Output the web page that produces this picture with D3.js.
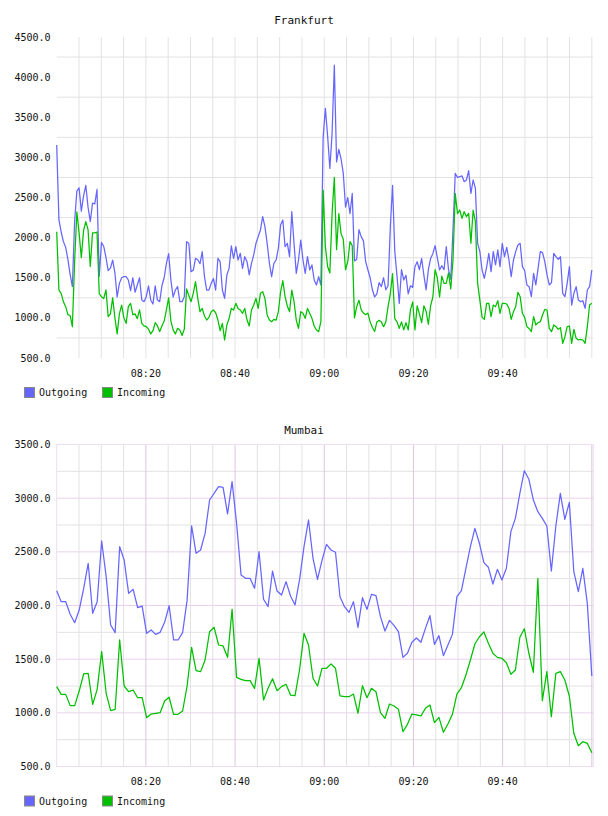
<!DOCTYPE html>
<html>
<head>
<meta charset="utf-8">
<script src="https://cdn.jsdelivr.net/npm/d3@7"></script>
<style>
  body { margin: 0; background: #fff; }
  text { font-family: "DejaVu Sans Mono", monospace; fill: #111; }
</style>
</head>
<body>
<div id="charts"></div>
<script>
var pageWidth = 608, pageHeight = 816;

var seriesNames = ['Outgoing', 'Incoming'];
var xTickLabels = ['08:20', '08:40', '09:00', '09:20', '09:40'];
var frankfurtYTicks = [500, 1000, 1500, 2000, 2500, 3000, 3500, 4000, 4500];
var mumbaiYTicks = [500, 1000, 1500, 2000, 2500, 3000, 3500];

// Frankfurt, samples evenly spread from 08:00 to 10:00
var frankfurtOutgoing = [
  3154, 2220, 2070, 1950, 1880, 1730, 1540, 1390, 2200, 2580,
  2620, 2330, 2520, 2650, 2380, 2200, 2430, 2420, 2600, 1520,
  1940, 1890, 1755, 1590, 1620, 1720, 1560, 1260, 1430, 1500,
  1515, 1513, 1472, 1340, 1500, 1320, 1410, 1500, 1222, 1202,
  1264, 1400, 1220, 1173, 1400, 1222, 1202, 1400, 1500, 1680,
  1800, 1470, 1260, 1347, 1390, 1202, 1202, 1264, 1950, 1930,
  1576, 1593, 1742, 1725, 1675, 1825, 1513, 1347, 1347, 1430,
  1490, 1347, 1742, 1700, 1347, 1243, 1535, 1617, 1896, 1742,
  1887, 1721, 1805, 1617, 1763, 1700, 1535, 1680, 1784, 1929,
  2012, 2095, 2261, 2137, 1929, 1680, 1513, 1680, 1721, 1866,
  2157, 2220, 1887, 1929, 1763, 2323, 1929, 1555, 1721, 1970,
  1721, 1555, 1763, 1597, 1660, 1472, 1410, 1513, 1410, 3250,
  3611, 3268, 2863, 3300, 4150, 2945, 3100, 2980, 2800, 2380,
  2500, 2300, 2550, 1710, 1730, 2100, 2012, 1960, 1700, 1597,
  1500, 1350, 1260, 1300, 1440, 1389, 1500, 1350, 1400, 2130,
  2650, 1830, 1520, 1180, 1600, 1472, 1530, 1300, 1400, 1380,
  1638, 1700, 1600, 1740, 1530, 1350, 1600, 1740, 1800, 1900,
  1750, 1597, 1650, 1600, 1887, 1600, 1480, 2095, 2800, 2750,
  2759, 2770, 2697, 2718, 2834, 2552, 2718, 2614, 1929, 1825,
  1597, 1493, 1630, 1805, 1576, 1825, 1659, 1846, 1638, 1929,
  1763, 1879, 1721, 1513, 1721, 1825, 1908, 1929, 1638, 1590,
  1410, 1389, 1264, 1555, 1410, 1617, 1825, 1813, 1700, 1535,
  1410, 1440, 1805, 1763, 1730, 1763, 1306, 1264, 1430, 1638,
  1160, 1306, 1389, 1222, 1202, 1214, 1118, 1347, 1389, 1597
];
var frankfurtIncoming = [
  2074, 1347, 1306, 1200, 1140, 1040, 1030, 890, 1700, 2320,
  2060, 1750, 2090, 2200, 2100, 1640, 2060, 2060, 2070, 1300,
  1264, 1240, 1350, 1015, 1050, 1250, 1000, 800, 1050, 1160,
  1000, 932, 1140, 1180, 1040, 1050, 990, 1100, 932, 900,
  890, 860, 800, 840, 940, 900, 830, 900, 960, 1100,
  1250, 960, 850, 800, 870, 850, 780, 860, 1360, 1280,
  1202, 1306, 1451, 1243, 1077, 1118, 1023, 973, 1006, 1077,
  1098, 1064, 973, 840, 932, 724, 911, 994, 1118, 1098,
  1181, 1118, 1098, 1057, 1118, 973, 899, 1098, 1160, 1243,
  1118, 1306, 1326, 1243, 1035, 973, 952, 982, 973, 1077,
  1326, 1463, 1264, 1148, 1077, 1347, 1202, 973, 869, 1077,
  1057, 994, 1118, 1057, 994, 899, 848, 828, 952, 2593,
  1887, 1640, 1560, 2300, 2750, 1850, 2300, 2050, 1980, 1600,
  1700, 1950, 1900, 1000, 1140, 1220, 1100, 1060, 1040, 1060,
  950, 880, 830, 950, 970, 950, 890, 950, 1140, 1300,
  1550, 990, 950, 870, 950, 850, 940, 850, 1100, 1200,
  850, 1150, 1050, 940, 1150, 1080, 920, 1150, 1260, 1600,
  1500, 1260, 1520, 1430, 1430, 1560, 1360, 1720, 2550, 2300,
  2344, 2240, 2323, 2261, 2303, 1929, 2344, 2199, 1430, 1222,
  1006, 982, 1181, 1181, 1015, 1160, 1140, 1214, 1057, 1181,
  1181, 1173, 1118, 982, 1077, 1140, 1318, 1264, 1057, 1006,
  890, 869, 828, 1015, 911, 940, 952, 1035, 1106, 1098,
  869, 828, 911, 890, 857, 878, 682, 765, 890, 899,
  682, 857, 745, 724, 732, 724, 682, 890, 1160, 1181
];

// Mumbai, about one sample a minute
var mumbaiOutgoing = [
  2138, 2035, 2035, 1918, 1840, 1958, 2160, 2393, 1927, 2035,
  2601, 2269, 1818, 1747, 2548, 2424, 2113, 2151, 1980, 1995,
  1741, 1772, 1731, 1750, 1843, 1998, 1679, 1679, 1747, 2050,
  2741, 2486, 2517, 2672, 2983, 3045, 3107, 3100, 2853, 3154,
  2766, 2284, 2253, 2253, 2160, 2501, 2058, 1989, 2321, 2135,
  2098, 2222, 2089, 2005, 2238, 2548, 2797, 2440, 2244, 2420,
  2570, 2517, 2496, 2082, 1989, 1936, 2035, 1797, 2073, 1964,
  2104, 2092, 1896, 1762, 1862, 1815, 1756, 1517, 1555, 1657,
  1697, 1657, 1787, 1905, 1638, 1719, 1532, 1632, 1731, 2082,
  2138, 2347, 2548, 2719, 2580, 2399, 2356, 2200, 2337, 2238,
  2347, 2688, 2812, 3045, 3256, 3176, 2983, 2874, 2812, 2741,
  2321, 2741, 3045, 2803, 2961, 2315, 2129, 2347, 2020, 1343
];
var mumbaiIncoming = [
  1244, 1172, 1172, 1067, 1067, 1203, 1362, 1368, 1079, 1219,
  1570, 1182, 1020, 1033, 1679, 1250, 1197, 1213, 1141, 1141,
  955, 989, 996, 1001, 1110, 1145, 986, 986, 1017, 1250,
  1610, 1393, 1384, 1492, 1756, 1797, 1632, 1623, 1517, 1964,
  1331, 1312, 1300, 1300, 1228, 1508, 1120, 1228, 1318, 1206,
  1244, 1266, 1166, 1160, 1399, 1741, 1632, 1322, 1250, 1415,
  1415, 1455, 1415, 1157, 1150, 1150, 1175, 996, 1253, 1141,
  1228, 1197, 1001, 949, 1082, 1064, 1033, 824, 893, 989,
  980, 971, 1042, 1073, 908, 958, 819, 896, 986, 1175,
  1234, 1352, 1492, 1641, 1709, 1753, 1648, 1555, 1517, 1508,
  1467, 1359, 1399, 1704, 1784, 1555, 1378, 2253, 1113, 1384,
  964, 1368, 1384, 1306, 1157, 809, 694, 731, 716, 629
];

var startTime = new Date(2000, 0, 1, 8, 0, 0),
    endTime = new Date(2000, 0, 1, 10, 0, 0),
    axisEnd = new Date(2000, 0, 1, 10, 0, 20);

var colors = ['#6666ff', '#00c000'];
var plotLeft = 56.7, plotRight = 593.3;

var svg = d3.select('#charts').append('svg')
    .attr('width', pageWidth)
    .attr('height', pageHeight);

function sampleTimes(n) {
    return d3.range(n).map(i => new Date(+startTime + i * (endTime - startTime) / (n - 1)));
}

function drawChart(cfg) {
    var g = svg.append('g');
    var x = d3.scaleTime().domain([startTime, axisEnd]).range([plotLeft, plotRight]);
    var y = d3.scaleLinear().domain(d3.extent(cfg.yTicks)).range([cfg.bottom, cfg.top]);

    // grid: gray lines halfway between the labelled values
    var minorY = d3.pairs(cfg.yTicks).map(p => (p[0] + p[1]) / 2);
    var fiveMin = d3.timeMinute.every(5).range(new Date(+startTime + 1), axisEnd);
    var isMajor = t => t.getMinutes() % 20 === 0;

    g.selectAll('.hminor').data(minorY).enter().append('line')
        .attr('x1', plotLeft).attr('x2', plotRight)
        .attr('y1', d => y(d)).attr('y2', d => y(d))
        .attr('stroke', '#e2e2e2').attr('stroke-width', 1);

    g.selectAll('.vminor').data(cfg.majorGrid ? fiveMin.filter(t => !isMajor(t)) : fiveMin)
        .enter().append('line')
        .attr('x1', d => x(d)).attr('x2', d => x(d))
        .attr('y1', cfg.top).attr('y2', cfg.bottom)
        .attr('stroke', '#e2e2e2').attr('stroke-width', 1);

    if (cfg.majorGrid) {
        g.selectAll('.hmajor').data(cfg.yTicks.slice(1, -1)).enter().append('line')
            .attr('x1', plotLeft).attr('x2', plotRight)
            .attr('y1', d => y(d)).attr('y2', d => y(d))
            .attr('stroke', '#ead2ec').attr('stroke-width', 1);
        g.selectAll('.vmajor').data(fiveMin.filter(isMajor)).enter().append('line')
            .attr('x1', d => x(d)).attr('x2', d => x(d))
            .attr('y1', cfg.top).attr('y2', cfg.bottom)
            .attr('stroke', '#dcc6df').attr('stroke-width', 1);
        g.append('rect')
            .attr('x', plotLeft).attr('y', cfg.top)
            .attr('width', plotRight - plotLeft).attr('height', cfg.bottom - cfg.top)
            .attr('fill', 'none').attr('stroke', '#eedcf0').attr('stroke-width', 1);
    }

    // lines
    var times = sampleTimes(cfg.series[0].length);
    var line = d3.line().x((d, i) => x(times[i])).y(d => y(d));
    cfg.series.forEach((s, k) => {
        g.append('path')
            .datum(s)
            .attr('d', line)
            .attr('fill', 'none')
            .attr('stroke', colors[k])
            .attr('stroke-width', 1.25)
            .attr('stroke-linejoin', 'round');
    });

    // y labels
    g.selectAll('.ylab').data(cfg.yTicks).enter().append('text')
        .attr('x', 50.5).attr('y', d => y(d)).attr('dy', '0.36em')
        .attr('text-anchor', 'end').style('font-size', '10px')
        .text(d3.format('.1f'));

    // x labels
    var parse = d3.timeParse('%H:%M');
    g.selectAll('.xlab').data(xTickLabels).enter().append('text')
        .attr('x', d => {
            var p = parse(d);
            return x(new Date(2000, 0, 1, p.getHours(), p.getMinutes()));
        })
        .attr('y', cfg.bottom + 15).attr('dy', '0.36em')
        .attr('text-anchor', 'middle').style('font-size', '10px')
        .text(d => d);

    // title
    g.append('text')
        .attr('x', pageWidth / 2).attr('y', cfg.titleY).attr('dy', '0.36em')
        .attr('text-anchor', 'middle').style('font-size', '11px')
        .text(cfg.title);

    // legend
    var legendX = [24, 102];
    seriesNames.forEach((name, k) => {
        g.append('rect')
            .attr('x', legendX[k] + 0.5).attr('y', cfg.bottom + 29.5)
            .attr('width', 10).attr('height', 10)
            .attr('fill', colors[k]).attr('stroke', '#888').attr('stroke-width', 1);
        g.append('text')
            .attr('x', legendX[k] + 15).attr('y', cfg.bottom + 34.5).attr('dy', '0.36em')
            .style('font-size', '10px')
            .text(name);
    });
}

drawChart({
    title: 'Frankfurt', titleY: 20, top: 37, bottom: 358,
    yTicks: frankfurtYTicks, majorGrid: false,
    series: [frankfurtOutgoing, frankfurtIncoming]
});

drawChart({
    title: 'Mumbai', titleY: 430, top: 444.5, bottom: 766.5,
    yTicks: mumbaiYTicks, majorGrid: true,
    series: [mumbaiOutgoing, mumbaiIncoming]
});
</script>
</body>
</html>
